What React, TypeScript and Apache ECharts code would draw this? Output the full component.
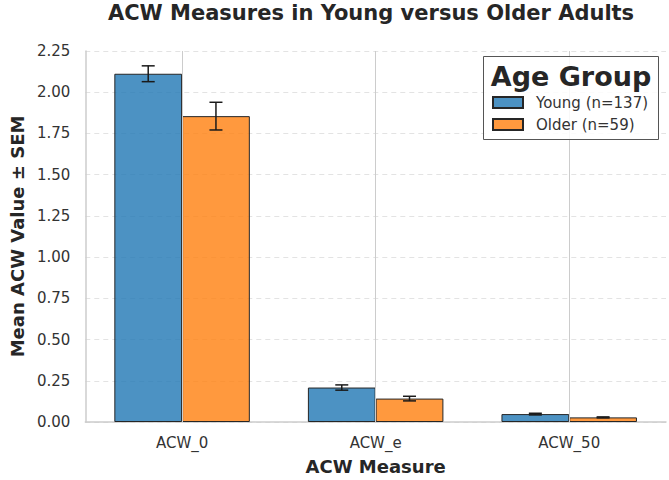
import React, { useEffect, useRef } from "react";
import * as echarts from "echarts";

const categories = ["ACW_0", "ACW_e", "ACW_50"];
const youngMeans = [2.112, 0.209, 0.048];
const youngSem = [0.048, 0.016, 0.005];
const olderMeans = [1.855, 0.142, 0.028];
const olderSem = [0.084, 0.014, 0.003];
const seriesNames = ["Young (n=137)", "Older (n=59)"];

const FONT = "DejaVu Sans";
const BLUE = "rgba(31,119,180,0.8)";
const ORANGE = "rgba(255,127,14,0.8)";

export default function App() {
  const ref = useRef<HTMLDivElement>(null);
  useEffect(() => {
    if (!ref.current) return;
    const chart = echarts.init(ref.current, undefined, { renderer: "svg" });

    const errData: number[][] = [];
    categories.forEach((_, i) => {
      errData.push([i, youngMeans[i], youngSem[i], 0]);
      errData.push([i, olderMeans[i], olderSem[i], 1]);
    });

    const option: any = {
      animation: false,
      backgroundColor: "#ffffff",
      title: {
        text: "ACW Measures in Young versus Older Adults",
        left: 371,
        textAlign: "center",
        top: 2,
        padding: 0,
        textStyle: { fontFamily: FONT, fontSize: 21, fontWeight: "bold", color: "#262626" },
      },
      grid: { left: 75, right: 3, top: 51, bottom: 53, containLabel: false },
      xAxis: {
        type: "category",
        data: categories,
        name: "ACW Measure",
        nameLocation: "middle",
        nameGap: 35,
        nameTextStyle: { fontFamily: FONT, fontSize: 18, fontWeight: "bold", color: "#262626" },
        axisLine: { show: true, lineStyle: { color: "#cccccc", width: 1.5 } },
        axisTick: { show: false },
        axisLabel: { fontFamily: FONT, fontSize: 15, color: "#333333", margin: 13 },
        splitLine: { show: false },
      },
      yAxis: {
        type: "value",
        min: 0,
        max: 2.25,
        interval: 0.25,
        name: "Mean ACW Value ± SEM",
        nameLocation: "middle",
        nameGap: 56,
        nameTextStyle: { fontFamily: FONT, fontSize: 18, fontWeight: "bold", color: "#262626" },
        axisLine: { show: true, lineStyle: { color: "#cccccc", width: 1.5 } },
        axisTick: { show: false },
        axisLabel: {
          fontFamily: FONT,
          fontSize: 15,
          color: "#333333",
          margin: 15,
          formatter: (v: number) => v.toFixed(2),
        },
        splitLine: { show: true, lineStyle: { color: "#e3e3e3", type: [5, 4], width: 1 } },
      },
      legend: {
        orient: "vertical",
        left: 492,
        top: 95,
        z: 60,
        padding: 0,
        itemGap: 7,
        itemWidth: 30,
        itemHeight: 11,
        icon: "rect",
        data: seriesNames,
        textStyle: { fontFamily: FONT, fontSize: 15, color: "#333333", padding: [0, 0, 0, 8] },
      },
      graphic: [
        {
          type: "rect",
          z: 40,
          shape: { x: 483.5, y: 56.5, width: 175, height: 83 },
          style: { fill: "rgba(255,255,255,0.85)", stroke: "#555555", lineWidth: 1 },
        },
        {
          type: "text",
          z: 41,
          x: 571,
          y: 76,
          style: {
            text: "Age Group",
            font: "bold 27px DejaVu Sans",
            fill: "#262626",
            align: "center",
            verticalAlign: "middle",
          },
        },
      ],
      series: [
        {
          type: "line",
          data: [],
          z: 0,
          silent: true,
          markLine: {
            silent: true,
            symbol: ["none", "none"],
            label: { show: false },
            lineStyle: { color: "#cccccc", type: "solid", width: 1 },
            data: categories.map((c) => ({ xAxis: c })),
          },
        },
        {
          name: seriesNames[0],
          type: "bar",
          data: youngMeans,
          barWidth: "35%",
          barGap: "0%",
          z: 2,
          itemStyle: { color: BLUE, borderColor: "#262626", borderWidth: 1 },
        },
        {
          name: seriesNames[1],
          type: "bar",
          data: olderMeans,
          barWidth: "35%",
          barGap: "0%",
          z: 2,
          itemStyle: { color: ORANGE, borderColor: "#262626", borderWidth: 1 },
        },
        {
          type: "custom",
          z: 5,
          silent: true,
          data: errData,
          renderItem: (params: any, api: any) => {
            const idx = api.value(0);
            const mean = api.value(1);
            const sem = api.value(2);
            const which = api.value(3);
            const band = api.size([1, 0])[0];
            const off = (which === 0 ? -0.175 : 0.175) * band;
            const top = api.coord([idx, mean + sem]);
            const bot = api.coord([idx, mean - sem]);
            const x = top[0] + off;
            const cap = 6.5;
            const style = { stroke: "#1a1a1a", lineWidth: 1.5 };
            return {
              type: "group",
              children: [
                { type: "line", shape: { x1: x, y1: top[1], x2: x, y2: bot[1] }, style },
                { type: "line", shape: { x1: x - cap, y1: top[1], x2: x + cap, y2: top[1] }, style },
                { type: "line", shape: { x1: x - cap, y1: bot[1], x2: x + cap, y2: bot[1] }, style },
              ],
            };
          },
        },
      ],
    };
    chart.setOption(option);
    return () => chart.dispose();
  }, []);
  return (
    <div
      ref={ref}
      style={{ position: "fixed", left: 0, top: 0, width: 669, height: 480 }}
    />
  );
}
